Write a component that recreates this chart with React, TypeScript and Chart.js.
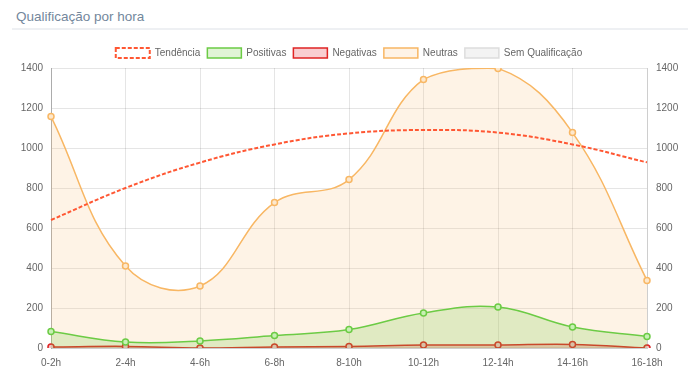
import React, { useEffect, useRef } from "react";
import { Chart, registerables } from "chart.js";
Chart.register(...registerables);

const categories = ["0-2h", "2-4h", "4-6h", "6-8h", "8-10h", "10-12h", "12-14h", "14-16h", "16-18h"];
const tendencia = [640, 800, 927, 1018, 1073, 1090, 1077, 1018, 928];
const positivas = [82, 30, 35, 62, 92, 175, 205, 105, 58];
const negativas = [5, 8, 0, 5, 8, 15, 15, 18, 0];
const neutras = [1157, 410, 310, 727, 842, 1343, 1398, 1077, 338];
const semQualificacao = [0, 0, 0, 0, 0, 0, 0, 0, 0];
const yMin = 0;
const yMax = 1400;
const yStep = 200;

const FONT = "'Liberation Sans', Arial, Helvetica, sans-serif";

export default function App() {
  const ref = useRef<HTMLCanvasElement>(null);
  useEffect(() => {
    Chart.defaults.font.family = FONT;
    Chart.defaults.font.size = 10;
    Chart.defaults.color = "#666";
    const grid = "rgba(0,0,0,0.1)";
    const plain = (v: any) => String(v);
    const chart = new Chart(ref.current!, {
      type: "line",
      data: {
        labels: categories,
        datasets: [
          {
            label: "Tendência",
            data: tendencia,
            borderColor: "#FF5733",
            backgroundColor: "#ffffff",
            borderDash: [4, 2],
            borderWidth: 2,
            fill: false,
            pointRadius: 0,
            tension: 0.4,
          },
          {
            label: "Positivas",
            data: positivas,
            borderColor: "#6CCB45",
            backgroundColor: "rgba(120,205,70,0.22)",
            pointBackgroundColor: "rgba(200,240,180,1)",
            borderWidth: 1.5,
            fill: "origin",
            pointRadius: 3,
            pointBorderWidth: 1.5,
            tension: 0.4,
          },
          {
            label: "Negativas",
            data: negativas,
            borderColor: "#E02424",
            backgroundColor: "rgba(230,60,70,0.25)",
            pointBackgroundColor: "rgba(245,190,195,1)",
            borderWidth: 1.5,
            fill: "origin",
            pointRadius: 3,
            pointBorderWidth: 1.5,
            tension: 0.4,
          },
          {
            label: "Neutras",
            data: neutras,
            borderColor: "#F8B764",
            backgroundColor: "rgba(248,183,100,0.16)",
            pointBackgroundColor: "rgba(253,232,205,1)",
            borderWidth: 1.5,
            fill: "origin",
            pointRadius: 3,
            pointBorderWidth: 1.5,
            tension: 0.4,
          },
          {
            label: "Sem Qualificação",
            data: semQualificacao,
            borderColor: "#dddddd",
            backgroundColor: "rgba(225,225,225,0.4)",
            pointBackgroundColor: "rgba(235,235,235,1)",
            borderWidth: 1.5,
            fill: "origin",
            pointRadius: 3,
            pointBorderWidth: 1.5,
            tension: 0.4,
          },
        ],
      },
      options: {
        responsive: false,
        animation: false,
        layout: { padding: 0 },
        plugins: {
          legend: {
            position: "top",
            labels: { boxWidth: 34, boxHeight: 10, padding: 7, font: { size: 10 }, color: "#666" },
          },
          tooltip: { enabled: false },
        },
        scales: {
          x: {
            grid: { color: grid, drawTicks: false },
            border: { color: grid },
            ticks: { padding: 9, maxRotation: 0, autoSkip: false },
            afterFit: (s: any) => {
              s.height = 25;
            },
          },
          y: {
            position: "left",
            min: yMin,
            max: yMax,
            ticks: { stepSize: yStep, padding: 8, callback: plain },
            grid: { color: grid, drawTicks: false },
            border: { color: "rgba(0,0,0,0.25)" },
            afterFit: (s: any) => {
              s.width = 41;
            },
          },
          y1: {
            position: "right",
            min: yMin,
            max: yMax,
            ticks: { stepSize: yStep, padding: 9, callback: plain },
            grid: { display: false, drawTicks: false },
            border: { color: grid },
            afterFit: (s: any) => {
              s.width = 41;
            },
          },
        },
      },
    });
    return () => chart.destroy();
  }, []);

  return (
    <div
      style={{
        position: "absolute",
        left: 0,
        top: 0,
        width: 688,
        height: 382,
        background: "#fff",
        overflow: "hidden",
      }}
    >
      <div
        style={{
          position: "absolute",
          left: 16,
          top: 9,
          font: `13.5px ${FONT}`,
          lineHeight: "16px",
          color: "#73879C",
          whiteSpace: "nowrap",
        }}
      >
        Qualificação por hora
      </div>
      <div
        style={{
          position: "absolute",
          left: 12,
          right: 0,
          top: 28,
          height: 2,
          background: "#EEF0F3",
        }}
      />
      <canvas
        ref={ref}
        width={678}
        height={332}
        style={{ position: "absolute", left: 10, top: 41, width: 678, height: 332 }}
      />
    </div>
  );
}
